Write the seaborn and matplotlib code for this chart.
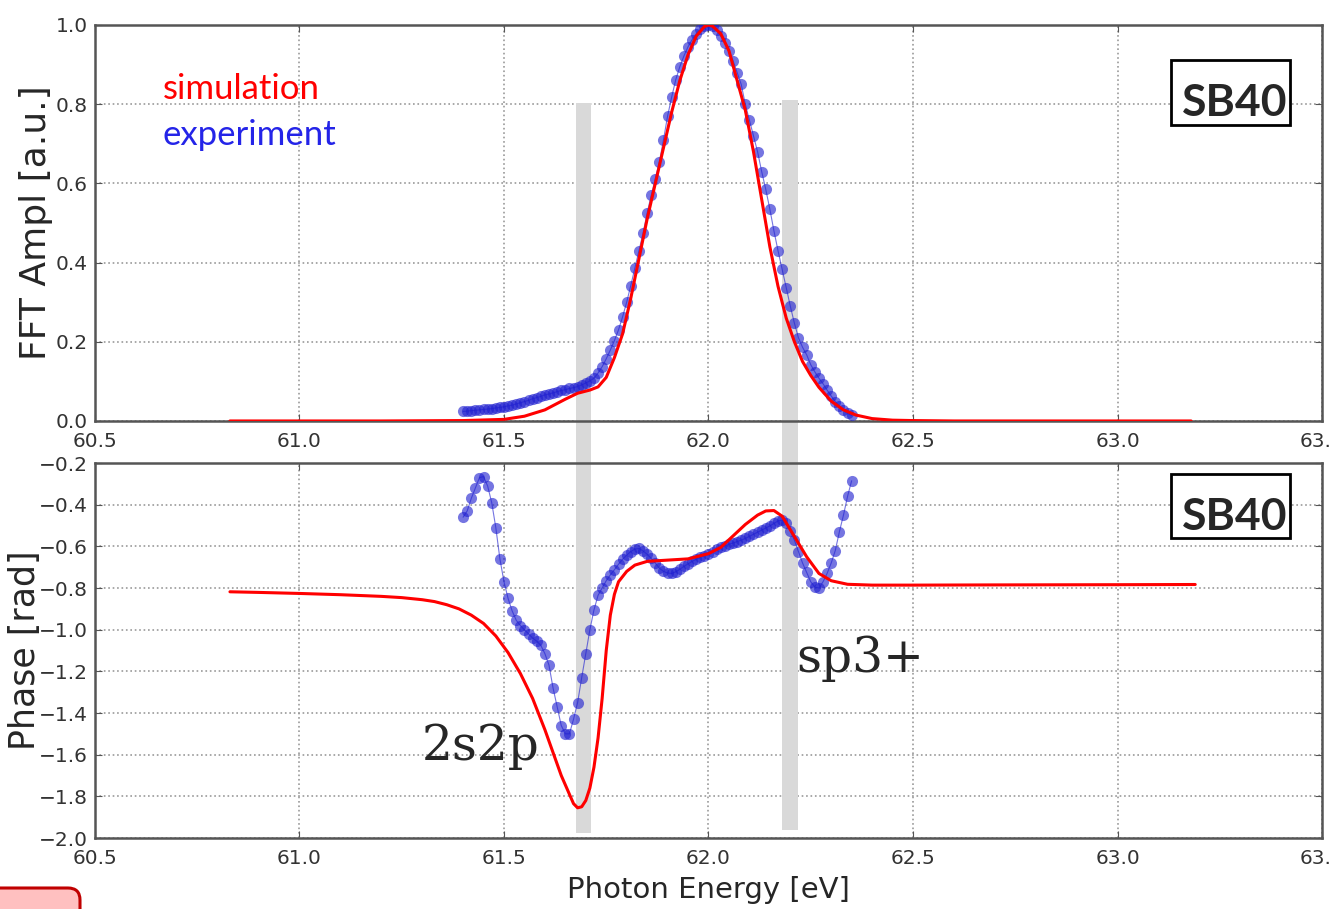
import pandas as pd
import seaborn as sns
import matplotlib.pyplot as plt
from matplotlib.patches import Rectangle, FancyBboxPatch
from matplotlib.transforms import IdentityTransform

# --- data ---
# experiment: energy grid (eV) shared by amplitude and phase
exp_energy = [
    61.40, 61.41, 61.42, 61.43, 61.44, 61.45, 61.46, 61.47, 61.48, 61.49,
    61.50, 61.51, 61.52, 61.53, 61.54, 61.55, 61.56, 61.57, 61.58, 61.59,
    61.60, 61.61, 61.62, 61.63, 61.64, 61.65, 61.66, 61.67, 61.68, 61.69,
    61.70, 61.71, 61.72, 61.73, 61.74, 61.75, 61.76, 61.77, 61.78, 61.79,
    61.80, 61.81, 61.82, 61.83, 61.84, 61.85, 61.86, 61.87, 61.88, 61.89,
    61.90, 61.91, 61.92, 61.93, 61.94, 61.95, 61.96, 61.97, 61.98, 61.99,
    62.00, 62.01, 62.02, 62.03, 62.04, 62.05, 62.06, 62.07, 62.08, 62.09,
    62.10, 62.11, 62.12, 62.13, 62.14, 62.15, 62.16, 62.17, 62.18, 62.19,
    62.20, 62.21, 62.22, 62.23, 62.24, 62.25, 62.26, 62.27, 62.28, 62.29,
    62.30, 62.31, 62.32, 62.33, 62.34, 62.35,
]
exp_amp = [
    0.024, 0.025, 0.026, 0.027, 0.028, 0.029, 0.030, 0.031, 0.033, 0.034,
    0.036, 0.038, 0.040, 0.043, 0.046, 0.049, 0.052, 0.056, 0.059, 0.062,
    0.066, 0.068, 0.071, 0.074, 0.077, 0.079, 0.082, 0.084, 0.087, 0.091,
    0.096, 0.101, 0.108, 0.121, 0.137, 0.157, 0.179, 0.203, 0.230, 0.263,
    0.300, 0.342, 0.386, 0.430, 0.474, 0.525, 0.570, 0.612, 0.655, 0.710,
    0.770, 0.818, 0.862, 0.895, 0.922, 0.945, 0.963, 0.978, 0.989, 0.997,
    1.000, 0.997, 0.988, 0.972, 0.954, 0.935, 0.910, 0.880, 0.850, 0.800,
    0.760, 0.720, 0.680, 0.630, 0.585, 0.535, 0.480, 0.430, 0.383, 0.337,
    0.290, 0.247, 0.210, 0.186, 0.167, 0.142, 0.124, 0.108, 0.094, 0.078,
    0.063, 0.049, 0.037, 0.027, 0.019, 0.014,
]
exp_phase = [
    -0.46, -0.43, -0.37, -0.32, -0.27, -0.265, -0.31, -0.39, -0.51, -0.66,
    -0.77, -0.85, -0.91, -0.955, -0.98, -1.00, -1.02, -1.04, -1.055, -1.075,
    -1.115, -1.17, -1.28, -1.37, -1.46, -1.50, -1.50, -1.43, -1.35, -1.23,
    -1.115, -1.00, -0.905, -0.835, -0.80, -0.765, -0.737, -0.712, -0.686, -0.662,
    -0.642, -0.625, -0.613, -0.61, -0.622, -0.638, -0.658, -0.68, -0.705, -0.72,
    -0.728, -0.73, -0.722, -0.71, -0.696, -0.684, -0.672, -0.662, -0.652, -0.644,
    -0.636, -0.627, -0.615, -0.605, -0.597, -0.59, -0.584, -0.577, -0.57, -0.562,
    -0.552, -0.542, -0.532, -0.522, -0.512, -0.502, -0.49, -0.478, -0.474, -0.488,
    -0.525, -0.57, -0.625, -0.68, -0.725, -0.77, -0.795, -0.80, -0.77, -0.73,
    -0.68, -0.62, -0.53, -0.45, -0.36, -0.285,
]

# simulation amplitude
sim_amp_energy = [
    60.83, 61.0, 61.2, 61.4, 61.5, 61.55, 61.6, 61.65, 61.68, 61.71,
    61.73, 61.75, 61.77, 61.79, 61.81, 61.83, 61.85, 61.87, 61.89, 61.91,
    61.93, 61.95, 61.97, 61.99, 62.0, 62.01, 62.03, 62.05, 62.07, 62.09,
    62.11, 62.13, 62.15, 62.17, 62.19, 62.21, 62.23, 62.25, 62.27, 62.30,
    62.33, 62.36, 62.40, 62.45, 62.50, 62.6, 62.8, 63.0, 63.18,
]
sim_amp = [
    0, 0, 0, 0.001, 0.004, 0.012, 0.028, 0.055, 0.070, 0.078,
    0.086, 0.11, 0.16, 0.22, 0.31, 0.41, 0.51, 0.60, 0.69, 0.78,
    0.86, 0.925, 0.972, 0.996, 1.0, 0.997, 0.978, 0.935, 0.86, 0.785,
    0.68, 0.56, 0.44, 0.34, 0.26, 0.20, 0.15, 0.115, 0.085, 0.05,
    0.028, 0.015, 0.006, 0.002, 0.001, 0, 0, 0, 0,
]

# simulation phase
sim_phase_energy = [
    60.83, 60.9, 61.0, 61.1, 61.2, 61.25, 61.3, 61.33, 61.36, 61.39,
    61.42, 61.45, 61.48, 61.51, 61.54, 61.57, 61.60, 61.62, 61.64, 61.66,
    61.67, 61.68, 61.69, 61.70, 61.71, 61.72, 61.73, 61.74, 61.75, 61.76,
    61.77, 61.78, 61.80, 61.82, 61.85, 61.90, 61.95, 62.00, 62.03, 62.06,
    62.09, 62.12, 62.14, 62.16, 62.18, 62.20, 62.22, 62.24, 62.27, 62.30,
    62.34, 62.40, 62.5, 62.7, 63.0, 63.19,
]
sim_phase = [
    -0.818, -0.821, -0.826, -0.832, -0.840, -0.846, -0.856, -0.865, -0.88, -0.90,
    -0.93, -0.97, -1.03, -1.11, -1.21, -1.33, -1.48, -1.59, -1.70, -1.79,
    -1.835, -1.855, -1.85, -1.82, -1.76, -1.66, -1.52, -1.33, -1.10, -0.93,
    -0.83, -0.77, -0.72, -0.69, -0.672, -0.666, -0.66, -0.635, -0.605, -0.55,
    -0.495, -0.45, -0.43, -0.428, -0.455, -0.52, -0.585, -0.65, -0.73, -0.765,
    -0.782, -0.786, -0.786, -0.785, -0.784, -0.783,
]

x_ticks = [60.5, 61.0, 61.5, 62.0, 62.5, 63.0, 63.5]
amp_ticks = [0.0, 0.2, 0.4, 0.6, 0.8, 1.0]
phase_ticks = [-2.0, -1.8, -1.6, -1.4, -1.2, -1.0, -0.8, -0.6, -0.4, -0.2]

# shaded resonance markers (eV)
bands = [(61.675, 61.712), (62.180, 62.218)]

exp_df = pd.DataFrame({"energy": exp_energy, "amp": exp_amp, "phase": exp_phase})
sim_amp_df = pd.DataFrame({"energy": sim_amp_energy, "amp": sim_amp})
sim_phase_df = pd.DataFrame({"energy": sim_phase_energy, "phase": sim_phase})

sns.set_style("ticks")
plt.rcParams.update({
    "font.family": ["DejaVu Sans"],
    "xtick.direction": "in",
    "ytick.direction": "in",
    "xtick.top": True,
    "ytick.right": True,
    "xtick.major.size": 5,
    "ytick.major.size": 5,
    "axes.edgecolor": "#555555",
    "axes.linewidth": 1.8,
    "xtick.color": "#555555",
    "ytick.color": "#555555",
    "xtick.labelcolor": "#333333",
    "ytick.labelcolor": "#333333",
})

fig = plt.figure(figsize=(13.32, 9.09), dpi=100)
ax1 = fig.add_axes([0.0713, 0.5369, 0.9212, 0.4356])
ax2 = fig.add_axes([0.0713, 0.0781, 0.9212, 0.4125])

exp_color = "#2020d0"
tick_font = dict(fontsize=14.5)


def style_axes(ax, yticks, ylabels):
    ax.set_xlim(60.5, 63.5)
    ax.set_xticks(x_ticks)
    ax.set_xticklabels([f"{t:.1f}" for t in x_ticks], **tick_font)
    ax.set_yticks(yticks)
    ax.set_yticklabels(ylabels, **tick_font)
    ax.grid(True, linestyle=":", color="#9a9a9a", linewidth=1.2)
    ax.tick_params(axis="x", pad=8)
    ax.tick_params(axis="y", pad=5)


# top: FFT amplitude
sns.lineplot(data=exp_df, x="energy", y="amp", ax=ax1, color=exp_color,
             marker="o", markersize=8, markeredgewidth=0, linewidth=0.8,
             alpha=0.62, zorder=3)
sns.lineplot(data=sim_amp_df, x="energy", y="amp", ax=ax1, color="red",
             linewidth=2.2, zorder=4)
ax1.set_ylim(0, 1.0)
style_axes(ax1, amp_ticks, [f"{t:.1f}" for t in amp_ticks])
ax1.set_xlabel("")
ax1.set_ylabel("FFT Ampl [a.u.]", fontsize=26)
ax1.yaxis.set_label_coords(-0.034, 0.5)

# bottom: phase
sns.lineplot(data=exp_df, x="energy", y="phase", ax=ax2, color=exp_color,
             marker="o", markersize=8, markeredgewidth=0, linewidth=0.8,
             alpha=0.62, zorder=3)
sns.lineplot(data=sim_phase_df, x="energy", y="phase", ax=ax2, color="red",
             linewidth=2.2, zorder=4)
ax2.set_ylim(-2.0, -0.2)
style_axes(ax2, phase_ticks, [f"{t:.1f}".replace("-", "\u2212") for t in phase_ticks])
ax2.set_xlabel("Photon Energy [eV]", fontsize=21)
ax2.xaxis.set_label_coords(0.5, -0.10)
ax2.set_ylabel("Phase [rad]", fontsize=25)
ax2.yaxis.set_label_coords(-0.043, 0.5)

# grey bands running through both panels
gap = 42 / 396
for (lo, hi), top in zip(bands, [0.803, 0.81]):
    ax1.axvspan(lo, hi, ymin=-gap, ymax=top, color="#d9d9d9", lw=0,
                zorder=1, clip_on=False)
for (lo, hi), bot in zip(bands, [0.013, 0.021]):
    ax2.axvspan(lo, hi, ymin=bot, ymax=1.0, color="#d9d9d9", lw=0,
                zorder=1, clip_on=False)

# legend-like labels
ax1.text(60.666, 0.813, "simulation", color="red", fontsize=25, family="Lato")
ax1.text(60.666, 0.697, "experiment", color="#2424e8", fontsize=25, family="Lato")

# SB40 boxes
for ax, (y0, h, yb) in [(ax1, (0.747, 0.165, 0.770)), (ax2, (0.80, 0.171, 0.821))]:
    ax.add_patch(Rectangle((0.877, y0), 0.097, h, transform=ax.transAxes,
                           facecolor="white", edgecolor="black", lw=2, zorder=5))
    ax.text(0.9715, yb, "SB40", transform=ax.transAxes, ha="right", va="baseline",
            fontsize=32, fontweight="bold", family="Lato", zorder=6)

# orbital annotations
ax2.text(61.30, -1.626, "2s2p", family="DejaVu Serif", fontsize=35, zorder=6)
ax2.text(62.214, -1.203, "sp3+", family="DejaVu Serif", fontsize=35, zorder=6)

# slide artefact at the bottom-left corner
fig.add_artist(FancyBboxPatch((-30, -30), 110, 51,
                              boxstyle="round,pad=0,rounding_size=12",
                              transform=IdentityTransform(),
                              facecolor="#ffc0c0", edgecolor="#c00000", lw=2.2))

fig.savefig("out.png", dpi=100)
